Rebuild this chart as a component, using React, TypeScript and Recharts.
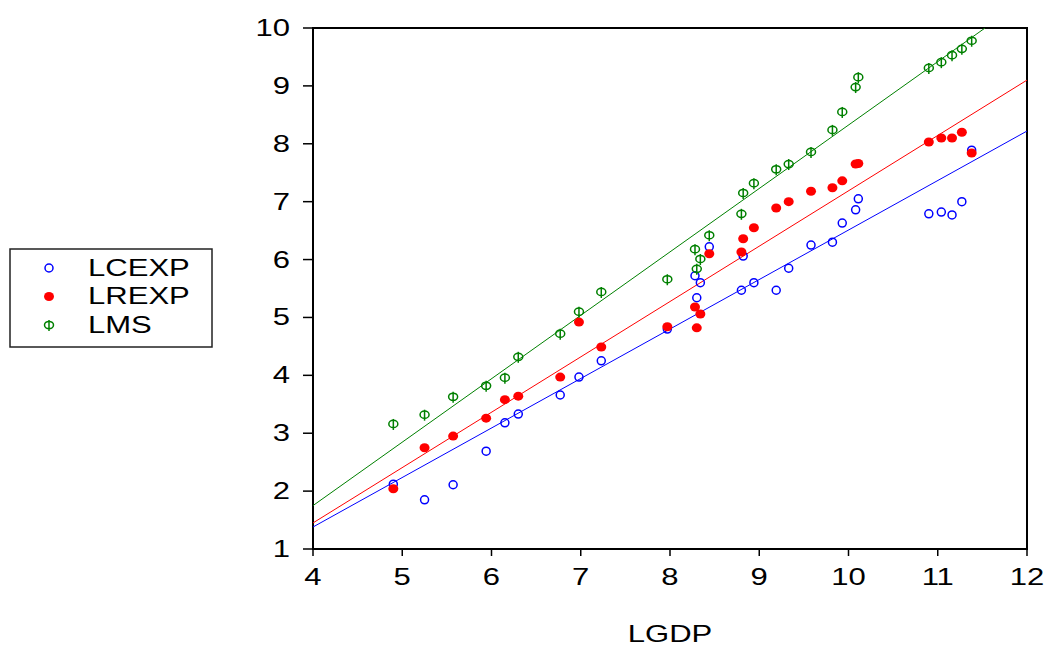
import React from "react";
import { ScatterChart, Scatter, XAxis, YAxis, ReferenceArea } from "recharts";

// LGDP values shared by all three series
const LGDP = [
  4.9, 5.25, 5.57, 5.94, 6.15, 6.3, 6.77, 6.98, 7.23, 7.97, 8.28, 8.3, 8.34, 8.44, 8.8,
  8.82, 8.94, 9.19, 9.33, 9.58, 9.82, 9.93, 10.08, 10.11, 10.9, 11.04, 11.16, 11.27, 11.38,
];
const LCEXP = [
  2.12, 1.85, 2.11, 2.69, 3.18, 3.33, 3.66, 3.97, 4.25, 4.8, 5.72, 5.34, 5.6, 6.22, 5.47,
  6.06, 5.6, 5.47, 5.85, 6.25, 6.3, 6.63, 6.86, 7.05, 6.79, 6.82, 6.77, 7.0, 7.89,
];
const LREXP = [
  2.04, 2.75, 2.95, 3.26, 3.58, 3.64, 3.97, 4.92, 4.49, 4.84, 5.18, 4.82, 5.06, 6.1, 6.13,
  6.36, 6.55, 6.89, 7.0, 7.18, 7.24, 7.36, 7.65, 7.66, 8.03, 8.1, 8.1, 8.2, 7.84,
];
const LMS = [
  3.16, 3.32, 3.63, 3.82, 3.96, 4.32, 4.72, 5.1, 5.44, 5.66, 6.18, 5.84, 6.01, 6.42, 6.79,
  7.15, 7.32, 7.56, 7.65, 7.86, 8.24, 8.55, 8.98, 9.15, 9.31, 9.41, 9.53, 9.64, 9.78,
];

// fitted line end points
const FIT_X = [4, 12];
const FIT_LCEXP = [1.38, 8.22];
const FIT_LREXP = [1.45, 9.1];
const FIT_LMS_X = [4, 11.53];
const FIT_LMS = [1.75, 10];

const X_TICKS = [4, 5, 6, 7, 8, 9, 10, 11, 12];
const Y_TICKS = [1, 2, 3, 4, 5, 6, 7, 8, 9, 10];

const BLUE = "#0000ff";
const RED = "#ff0000";
const GREEN = "#008000";
const FONT = "'Liberation Sans', Arial, sans-serif";
const STRETCH = 1.35;

const pts = (xs: number[], ys: number[]) => xs.map((x, i) => ({ x, y: ys[i] }));

function StretchText({ x, y, anchor, children, size = 23 }: any) {
  return (
    <text
      transform={`translate(${x},${y}) scale(${STRETCH},1)`}
      textAnchor={anchor}
      dominantBaseline="central"
      fontFamily={FONT}
      fontSize={size}
      fill="#000"
    >
      {children}
    </text>
  );
}

const YTick = (p: any) => (
  <StretchText x={p.x} y={p.y} anchor="end">
    {p.payload.value}
  </StretchText>
);

const XTick = (p: any) => (
  <StretchText x={p.x} y={p.y + 19} anchor="middle">
    {p.payload.value}
  </StretchText>
);

const OpenCircle = ({ cx, cy }: any) => (
  <circle cx={cx} cy={cy} r={4} fill="none" stroke={BLUE} strokeWidth={1.5} />
);
const FilledDot = ({ cx, cy }: any) => <ellipse cx={cx} cy={cy} rx={5} ry={4.5} fill={RED} />;
const Phi = ({ cx, cy }: any) => (
  <g>
    <ellipse cx={cx} cy={cy} rx={4.5} ry={3.6} fill="none" stroke={GREEN} strokeWidth={1.5} />
    <line x1={cx} x2={cx} y1={cy - 5} y2={cy + 6} stroke={GREEN} strokeWidth={1.5} />
  </g>
);
const NoMark = () => <g />;

const axisLine = { stroke: "#000", strokeWidth: 2 };
const tickLine = { stroke: "#000", strokeWidth: 1.5 };

const LEGEND = [
  { name: "LCEXP", Mark: OpenCircle },
  { name: "LREXP", Mark: FilledDot },
  { name: "LMS", Mark: Phi },
];

function LegendBox() {
  return (
    <svg
      width={204}
      height={100}
      style={{ position: "absolute", left: 9, top: 248 }}
    >
      <rect x={1} y={1} width={202} height={98} fill="#fff" stroke="#222" strokeWidth={1.5} />
      {LEGEND.map((l, i) => (
        <g key={l.name}>
          <l.Mark cx={40} cy={20 + i * 28.5} />
          <StretchText x={79} y={20 + i * 28.5} anchor="start">
            {l.name}
          </StretchText>
        </g>
      ))}
    </svg>
  );
}

export default function App() {
  return (
    <div
      style={{
        position: "absolute",
        left: 0,
        top: 0,
        width: 1045,
        height: 648,
        background: "#fff",
        fontFamily: FONT,
      }}
    >
      <ScatterChart width={1045} height={648} margin={{ top: 28, right: 18, left: 253, bottom: 0 }}>
        <XAxis
          type="number"
          dataKey="x"
          domain={[4, 12]}
          ticks={X_TICKS}
          height={99}
          axisLine={axisLine}
          tickLine={tickLine}
          tickSize={7}
          tick={<XTick />}
          allowDataOverflow
          label={{
            content: ({ viewBox }: any) => (
              <StretchText x={viewBox.x + viewBox.width / 2} y={viewBox.y + 85} anchor="middle">
                LGDP
              </StretchText>
            ),
          }}
        />
        <YAxis
          type="number"
          dataKey="y"
          domain={[1, 10]}
          ticks={Y_TICKS}
          width={60}
          axisLine={axisLine}
          tickLine={tickLine}
          tickSize={10}
          tickMargin={13}
          tick={<YTick />}
          allowDataOverflow
        />
        <ReferenceArea x1={4} x2={12} y1={1} y2={10} fill="none" fillOpacity={0} stroke="#000" strokeWidth={2} />
        <Scatter data={pts(FIT_X, FIT_LCEXP)} line={{ stroke: BLUE, strokeWidth: 1 }} shape={<NoMark />} isAnimationActive={false} />
        <Scatter data={pts(FIT_X, FIT_LREXP)} line={{ stroke: RED, strokeWidth: 1 }} shape={<NoMark />} isAnimationActive={false} />
        <Scatter data={pts(FIT_LMS_X, FIT_LMS)} line={{ stroke: GREEN, strokeWidth: 1 }} shape={<NoMark />} isAnimationActive={false} />
        <Scatter name="LCEXP" data={pts(LGDP, LCEXP)} shape={<OpenCircle />} isAnimationActive={false} />
        <Scatter name="LREXP" data={pts(LGDP, LREXP)} shape={<FilledDot />} isAnimationActive={false} />
        <Scatter name="LMS" data={pts(LGDP, LMS)} shape={<Phi />} isAnimationActive={false} />
      </ScatterChart>
      <LegendBox />
    </div>
  );
}
